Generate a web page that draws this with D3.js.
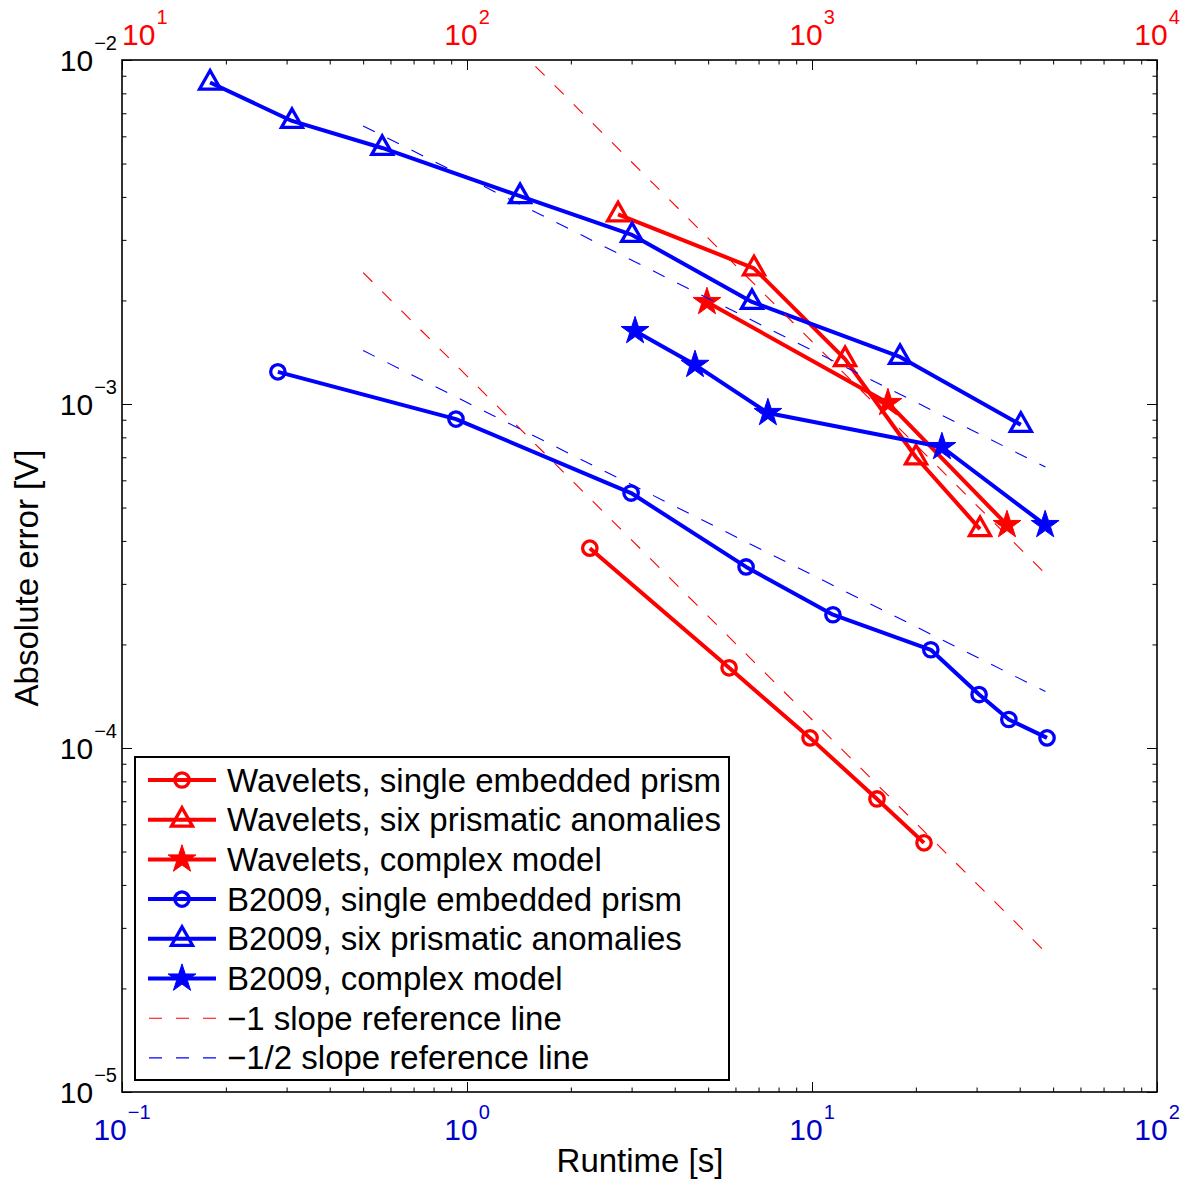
<!DOCTYPE html>
<html>
<head>
<meta charset="utf-8">
<script src="https://cdn.jsdelivr.net/npm/d3@7"></script>
<style>
  body { margin: 0; background: #fff; }
  text { font-family: "Liberation Sans", Arial, Helvetica, sans-serif; }
</style>
</head>
<body>
<svg id="chart" width="1190" height="1184"></svg>
<script>
// Runtime (s) vs absolute error (V). B2009 runs use the bottom axis (s),
// wavelet runs use the top axis.
const b2009SingleX = [0.283, 0.929, 2.99, 6.44, 11.5, 22.1, 30.5, 37.2, 48.0];
const b2009SingleY = [1.24e-3, 9.04e-4, 5.51e-4, 3.36e-4, 2.44e-4, 1.93e-4, 1.43e-4, 1.21e-4, 1.07e-4];
const b2009SixX = [0.18, 0.311, 0.568, 1.425, 3.01, 6.70, 18.0, 40.3];
const b2009SixY = [8.6e-3, 6.65e-3, 5.55e-3, 4.02e-3, 3.1e-3, 1.98e-3, 1.37e-3, 8.7e-4];
const b2009ComplexX = [3.07, 4.58, 7.45, 23.8, 47.4];
const b2009ComplexY = [1.63e-3, 1.30e-3, 9.42e-4, 7.5e-4, 4.45e-4];

const waveSingleX = [227, 575, 987, 1543, 2112];
const waveSingleY = [3.81e-4, 1.71e-4, 1.07e-4, 7.11e-5, 5.30e-5];
const waveSixX = [274, 679, 1247, 2002, 3069];
const waveSixY = [3.56e-3, 2.48e-3, 1.35e-3, 7.0e-4, 4.33e-4];
const waveComplexX = [496, 1660, 3675];
const waveComplexY = [1.98e-3, 1.007e-3, 4.45e-4];

// Reference slopes: -1 against the top axis, -1/2 against the bottom axis
const refSteepX = [50, 4750];
const refSteepUpperY = [3.02e-2, 3.21e-4];
const refSteepLowerY = [2.41e-3, 2.55e-5];
const refHalfX = [0.5, 47.5];
const refHalfUpperY = [6.43e-3, 6.56e-4];
const refHalfLowerY = [1.43e-3, 1.46e-4];

const xBottomDomain = [0.1, 100];
const xTopDomain = [10, 1e4];
const yDomain = [1e-5, 1e-2];
const bottomTickExps = [-1, 0, 1, 2];
const topTickExps = [1, 2, 3, 4];
const leftTickExps = [-5, -4, -3, -2];

const legendLabels = [
  "Wavelets, single embedded prism",
  "Wavelets, six prismatic anomalies",
  "Wavelets, complex model",
  "B2009, single embedded prism",
  "B2009, six prismatic anomalies",
  "B2009, complex model",
  "\u22121 slope reference line",
  "\u22121/2 slope reference line"
];

const RED = "#ff0000", BLUE = "#0000ff";
const BLUE_TEXT = "#0000c8";
const LINE_W = 4;

const svg = d3.select("#chart");
const L = 122, R = 1157, T = 60, B = 1092;

const xB = d3.scaleLog().domain(xBottomDomain).range([L, R]);
const xT = d3.scaleLog().domain(xTopDomain).range([L, R]);
const y = d3.scaleLog().domain(yDomain).range([B, T]);

svg.append("defs").append("clipPath").attr("id", "plotClip")
  .append("rect").attr("x", L).attr("y", T).attr("width", R - L).attr("height", B - T);

// ---- ticks (inward, major + minor) ----
function decadeRange(domain) {
  return [Math.round(Math.log10(domain[0])), Math.round(Math.log10(domain[1]))];
}
function minorValues(domain) {
  const [lo, hi] = decadeRange(domain), out = [];
  for (let e = lo; e < hi; e++) for (let m = 2; m <= 9; m++) out.push(m * Math.pow(10, e));
  return out;
}
function majorValues(domain) {
  const [lo, hi] = decadeRange(domain), out = [];
  for (let e = lo; e <= hi; e++) out.push(Math.pow(10, e));
  return out;
}
function tickLayer(axisFn, scale, domain, transform) {
  [[majorValues(domain), 10], [minorValues(domain), 4.5]].forEach(([vals, len]) => {
    const g = svg.append("g").attr("transform", transform)
      .call(axisFn(scale).tickValues(vals).tickSize(-len).tickFormat(""));
    g.select(".domain").remove();
    g.selectAll("line").attr("stroke", "#000").attr("stroke-width", 1);
  });
}
tickLayer(d3.axisBottom, xB, xBottomDomain, `translate(0,${B})`);
tickLayer(d3.axisTop, xT, xTopDomain, `translate(0,${T})`);
tickLayer(d3.axisLeft, y, yDomain, `translate(${L},0)`);
tickLayer(d3.axisRight, y, yDomain, `translate(${R},0)`);

svg.append("rect").attr("x", L).attr("y", T).attr("width", R - L).attr("height", B - T)
  .attr("fill", "none").attr("stroke", "#000").attr("stroke-width", 1.6);

// ---- power-of-ten tick labels ----
// align: "end" | "middle"; minX keeps a label from running past a left limit
function powLabel(x, baseline, exp, color, align, minX) {
  const g = svg.append("g");
  const base = g.append("text").attr("y", baseline).attr("font-size", 30).attr("fill", color).text("10");
  const sup = g.append("text").attr("y", baseline - 21).attr("font-size", 20).attr("fill", color)
    .text(exp < 0 ? "\u2212" + Math.abs(exp) : String(exp));
  const wb = base.node().getComputedTextLength();
  const ws = sup.node().getComputedTextLength();
  const total = wb + ws + 1;
  let x0 = align === "end" ? x - total : x - total / 2;
  if (minX !== undefined && x0 < minX) x0 = minX;
  base.attr("x", x0);
  sup.attr("x", x0 + wb + 1);
}
leftTickExps.forEach(e => powLabel(117, y(Math.pow(10, e)) + 11, e, "#000", "end"));
bottomTickExps.forEach(e => powLabel(xB(Math.pow(10, e)), 1140, e, BLUE_TEXT, "middle"));
topTickExps.forEach(e => powLabel(xT(Math.pow(10, e)), 45, e, RED, "middle", L));

// ---- axis titles ----
svg.append("text").attr("x", 640).attr("y", 1172).attr("text-anchor", "middle")
  .attr("font-size", 33).attr("fill", "#000").text("Runtime [s]");
svg.append("text").attr("transform", "translate(38,578) rotate(-90)").attr("text-anchor", "middle")
  .attr("font-size", 33).attr("fill", "#000").text("Absolute error [V]");

// ---- markers ----
const star = d3.symbol().type(d3.symbolStar).size(240);
function drawMarker(g, kind, color, px, py) {
  if (kind === "circle") {
    g.append("circle").attr("cx", px).attr("cy", py).attr("r", 7.2)
      .attr("fill", "none").attr("stroke", color).attr("stroke-width", 3.3);
  } else if (kind === "triangle") {
    g.append("path").attr("d", `M${px},${py - 12}L${px + 10.5},${py + 6.5}L${px - 10.5},${py + 6.5}Z`)
      .attr("fill", "none").attr("stroke", color).attr("stroke-width", 3.3).attr("stroke-linejoin", "miter");
  } else {
    g.append("path").attr("d", star()).attr("transform", `translate(${px},${py})`)
      .attr("fill", color).attr("stroke", color).attr("stroke-width", 1);
  }
}

const series = [
  { xs: waveSingleX, ys: waveSingleY, scale: xT, color: RED, marker: "circle" },
  { xs: waveSixX, ys: waveSixY, scale: xT, color: RED, marker: "triangle" },
  { xs: waveComplexX, ys: waveComplexY, scale: xT, color: RED, marker: "star" },
  { xs: b2009SingleX, ys: b2009SingleY, scale: xB, color: BLUE, marker: "circle" },
  { xs: b2009SixX, ys: b2009SixY, scale: xB, color: BLUE, marker: "triangle" },
  { xs: b2009ComplexX, ys: b2009ComplexY, scale: xB, color: BLUE, marker: "star" }
];

const plot = svg.append("g").attr("clip-path", "url(#plotClip)");
series.forEach(s => {
  const pts = s.xs.map((v, i) => [s.scale(v), y(s.ys[i])]);
  const g = plot.append("g");
  g.append("path").attr("d", d3.line()(pts)).attr("fill", "none")
    .attr("stroke", s.color).attr("stroke-width", LINE_W).attr("stroke-linejoin", "round");
  pts.forEach(p => drawMarker(g, s.marker, s.color, p[0], p[1]));
});

const refs = [
  { xs: refSteepX, ys: refSteepUpperY, scale: xT, color: RED },
  { xs: refSteepX, ys: refSteepLowerY, scale: xT, color: RED },
  { xs: refHalfX, ys: refHalfUpperY, scale: xB, color: BLUE },
  { xs: refHalfX, ys: refHalfLowerY, scale: xB, color: BLUE }
];
refs.forEach(r => {
  const pts = r.xs.map((v, i) => [r.scale(v), y(r.ys[i])]);
  plot.append("path").attr("d", d3.line()(pts)).attr("fill", "none")
    .attr("stroke", r.color).attr("stroke-width", 1.1).attr("stroke-dasharray", "13,14");
});

// ---- legend ----
const lg = svg.append("g");
lg.append("rect").attr("x", 135).attr("y", 757).attr("width", 594).attr("height", 323)
  .attr("fill", "#fff").attr("stroke", "#000").attr("stroke-width", 2);
const legendStyles = series.map(s => ({ color: s.color, marker: s.marker, dashed: false }))
  .concat([{ color: RED, dashed: true }, { color: BLUE, dashed: true }]);
legendLabels.forEach((label, i) => {
  const cy = 780 + i * 39.7;
  const st = legendStyles[i];
  if (st.dashed) {
    lg.append("line").attr("x1", 149).attr("x2", 216).attr("y1", cy).attr("y2", cy)
      .attr("stroke", st.color).attr("stroke-width", 1.1).attr("stroke-dasharray", "13,14");
  } else {
    lg.append("line").attr("x1", 148).attr("x2", 216).attr("y1", cy).attr("y2", cy)
      .attr("stroke", st.color).attr("stroke-width", LINE_W);
    drawMarker(lg, st.marker, st.color, 182, cy);
  }
  lg.append("text").attr("x", 227).attr("y", cy + 11.5).attr("font-size", 33)
    .attr("fill", "#000").text(label);
});
</script>
</body>
</html>
